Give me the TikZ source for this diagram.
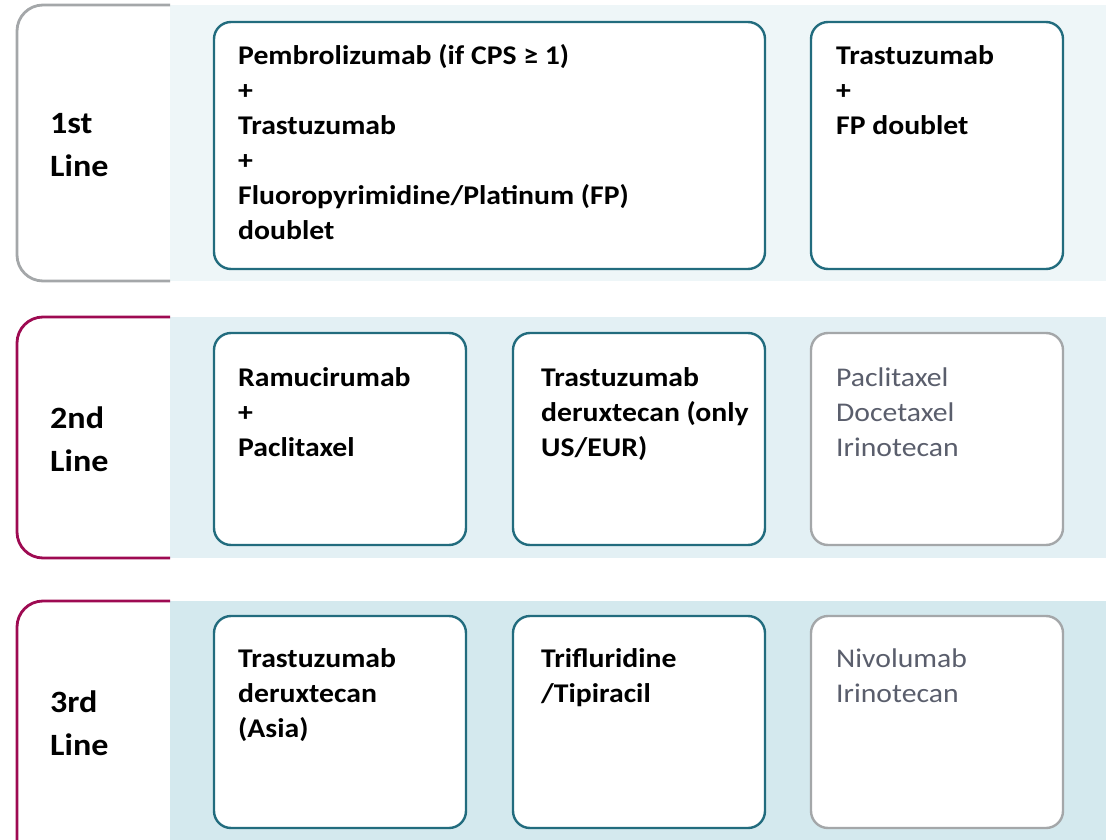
\documentclass[tikz,border=0pt]{standalone}
\usepackage{fontspec}
\setmainfont{Carlito}[FakeStretch=1.10]
\definecolor{teal1}{HTML}{226C7E}
\definecolor{mag}{HTML}{9E0A52}
\definecolor{lgray}{HTML}{A4A7A9}
\definecolor{txtgray}{HTML}{5A5E6C}
\definecolor{pan1}{HTML}{EEF6F8}
\definecolor{pan2}{HTML}{E3F0F4}
\definecolor{pan3}{HTML}{D4E9EE}
\newcommand\fl{\rule{0pt}{20pt}}
\newcommand\flb{\rule{0pt}{24pt}}
\tikzset{
  drugbox/.style={draw=teal1, line width=2.4pt, fill=white, rounded corners=17pt},
  graybox/.style={draw=lgray, line width=2.4pt, fill=white, rounded corners=17pt},
  drugtxt/.style={anchor=north west, inner sep=0pt, align=left, font=\fontsize{27}{35}\selectfont\bfseries},
  graytxt/.style={anchor=north west, inner sep=0pt, align=left, font=\fontsize{27}{35}\selectfont, text=txtgray},
  labtxt/.style={anchor=north west, inner sep=0pt, align=left, font=\fontsize{31}{43}\selectfont\bfseries},
  labline/.style={line width=2.8pt, rounded corners=26pt}
}
\begin{document}
\begin{tikzpicture}[x=1pt,y=-1pt]
\clip (0,0) rectangle (1109,840);
% panels
\fill[pan1] (170,5) rectangle (1106,281);
\fill[pan2] (170,317) rectangle (1106,558);
\fill[pan3] (170,601) rectangle (1106,840);
% label boxes
\draw[labline, draw=lgray] (170,5) -- (17,5) -- (17,281) -- (170,281);
\draw[labline, draw=mag] (170,317) -- (17,317) -- (17,558) -- (170,558);
\draw[labline, draw=mag] (170,601) -- (17,601) -- (17,870) -- (170,870);
\node[labtxt] (l1) at (50,133-24) {\flb 1st\\Line};
\node[labtxt] (l2) at (50,428-24) {\flb 2nd\\Line};
\node[labtxt] (l3) at (50,712-24) {\flb 3rd\\Line};
% row 1
\draw[drugbox] (214,22) rectangle (765,269);
\draw[drugbox] (811,22) rectangle (1063,269);
\node[drugtxt] (t1a) at (238,64-20) {\fl Pembrolizumab (if CPS ≥ 1)\\+\\Trastuzumab\\+\\Fluoropyrimidine/Platinum (FP)\\doublet};
\node[drugtxt] (t1b) at (836,64-20) {\fl Trastuzumab\\+\\FP doublet};
% row 2
\draw[drugbox] (214,333) rectangle (466,545);
\draw[drugbox] (513,333) rectangle (765,545);
\draw[graybox] (811,333) rectangle (1063,545);
\node[drugtxt] (t2a) at (238,386-20) {\fl Ramucirumab\\+\\Paclitaxel};
\node[drugtxt] (t2b) at (541,386-20) {\fl Trastuzumab\\deruxtecan (only\\US/EUR)};
\node[graytxt] (t2c) at (836,386-20) {\fl Paclitaxel\\Docetaxel\\Irinotecan};
% row 3
\draw[drugbox] (214,616) rectangle (466,828);
\draw[drugbox] (513,616) rectangle (765,828);
\draw[graybox] (811,616) rectangle (1063,828);
\node[drugtxt] (t3a) at (238,667-20) {\fl Trastuzumab\\deruxtecan\\(Asia)};
\node[drugtxt] (t3b) at (541,667-20) {\fl Trifluridine\\/Tipiracil};
\node[graytxt] (t3c) at (836,667-20) {\fl Nivolumab\\Irinotecan};
\end{tikzpicture}
\end{document}
